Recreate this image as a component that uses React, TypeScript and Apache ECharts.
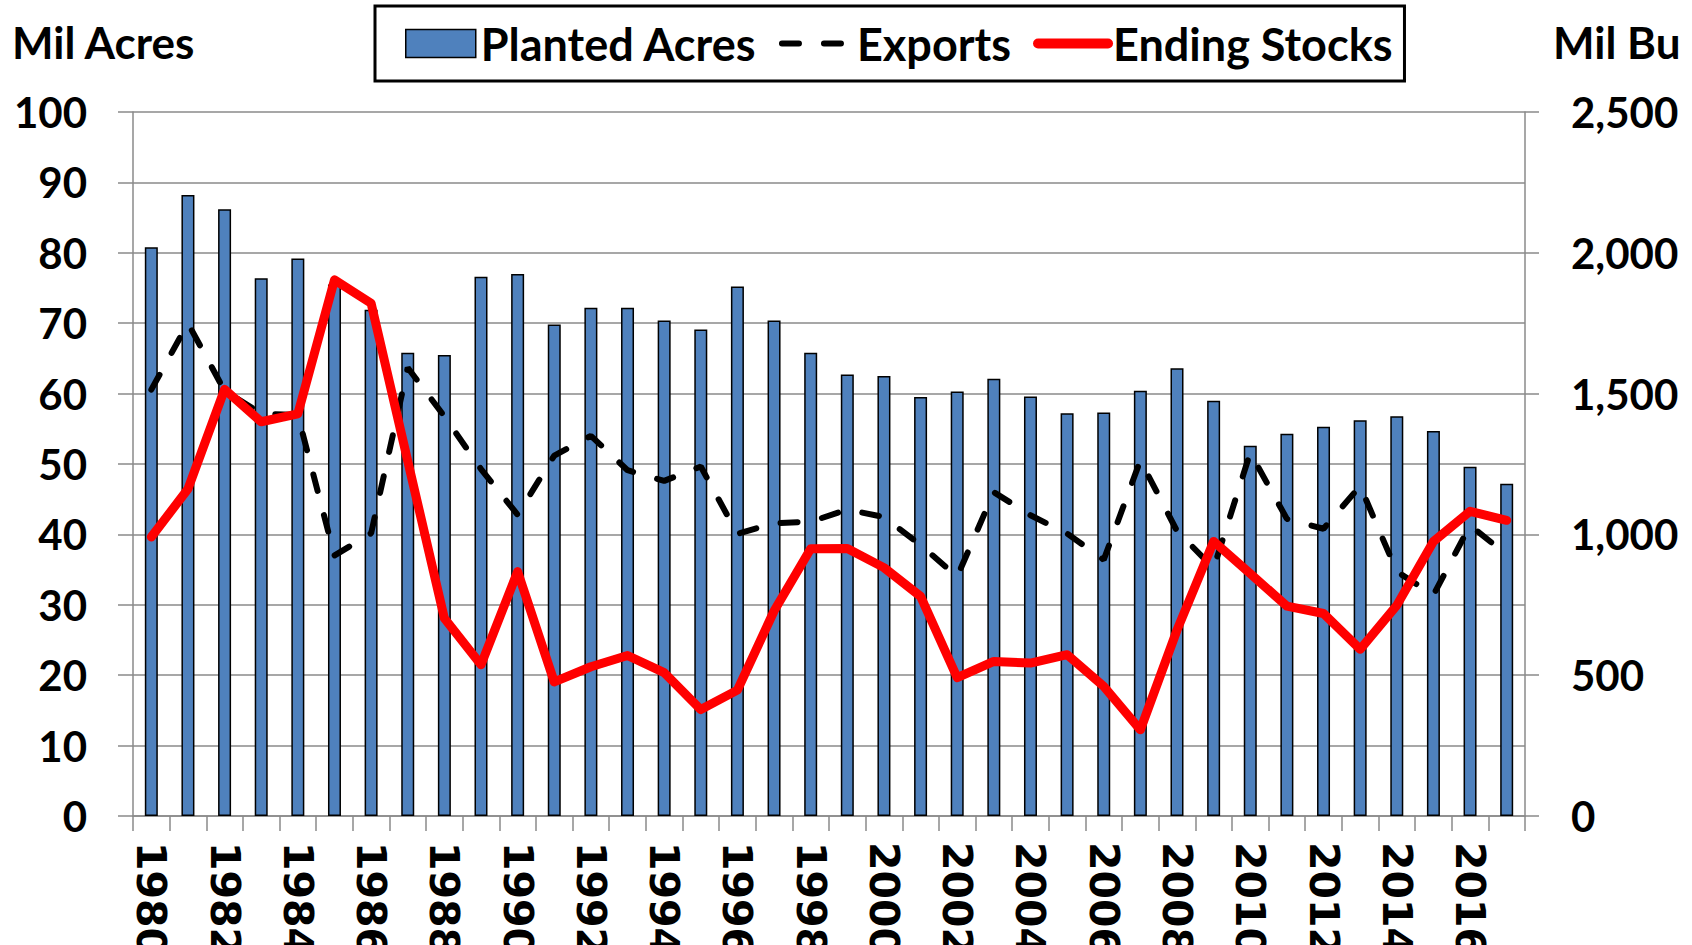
import React, { useEffect, useRef } from "react";
import * as echarts from "echarts";

const years = [
  "1980", "1981", "1982", "1983", "1984", "1985", "1986", "1987", "1988", "1989",
  "1990", "1991", "1992", "1993", "1994", "1995", "1996", "1997", "1998", "1999",
  "2000", "2001", "2002", "2003", "2004", "2005", "2006", "2007", "2008", "2009",
  "2010", "2011", "2012", "2013", "2014", "2015", "2016", "2017",
];

// Mil Acres (left axis)
const plantedAcres = [
  80.8, 88.2, 86.2, 76.4, 79.2, 75.5, 71.9, 65.8, 65.5, 76.6,
  77.0, 69.8, 72.2, 72.2, 70.4, 69.1, 75.2, 70.4, 65.8, 62.7,
  62.5, 59.5, 60.3, 62.1, 59.6, 57.2, 57.3, 60.4, 63.6, 59.0,
  52.6, 54.3, 55.3, 56.2, 56.8, 54.7, 49.6, 47.2,
];

// Mil Bu (right axis)
const exportsBu = [
  1514, 1750, 1510, 1429, 1424, 925, 1004, 1592, 1419, 1232,
  1070, 1280, 1350, 1228, 1190, 1241, 1002, 1040, 1045, 1088,
  1062, 962, 850, 1150, 1068, 1003, 910, 1263, 1012, 880,
  1290, 1055, 1020, 1172, 868, 785, 1032, 928,
];

const endingStocks = [
  991, 1161, 1515, 1400, 1428, 1904, 1821, 1261, 702, 537,
  868, 476, 530, 570, 509, 378, 447, 728, 949, 950,
  882, 780, 491, 549, 543, 573, 460, 306, 660, 975,
  861, 745, 719, 592, 748, 975, 1082, 1050,
];

const leftTitle = "Mil Acres";
const rightTitle = "Mil Bu";

const FONT = "Lato";
const GRAY = "#8a8a8a";

export default function App() {
  const ref = useRef<HTMLDivElement>(null);

  useEffect(() => {
    const chart = echarts.init(ref.current!, null, { renderer: "svg", width: 1692, height: 945 });
    chart.setOption({
      animation: false,
      backgroundColor: "#ffffff",
      textStyle: { fontFamily: FONT },
      grid: {
        left: 133,
        right: 167,
        top: 112,
        bottom: 129,
        containLabel: false,
        outerBoundsMode: "none",
      },
      legend: {
        left: 375,
        top: 6,
        padding: [15, 12, 15, 30],
        borderColor: "#000",
        borderWidth: 3,
        borderRadius: 0,
        itemWidth: 70,
        itemHeight: 28,
        itemGap: 22,
        textStyle: { fontFamily: FONT, fontWeight: "bold", fontSize: 45, color: "#000" },
        data: [
          {
            name: "Planted Acres",
            icon: "rect",
            itemStyle: { color: "#4F81BD", borderColor: "#000", borderWidth: 1.5 },
          },
          {
            name: "Exports",
            itemStyle: { opacity: 0 },
            lineStyle: { width: 6, color: "#000", type: [17, 25], cap: "round" },
          },
          {
            name: "Ending Stocks",
            itemStyle: { opacity: 0 },
            lineStyle: { width: 10, color: "#FF0000", cap: "round" },
          },
        ],
      },
      graphic: [
        {
          type: "text",
          x: 12,
          y: 42,
          style: { text: leftTitle, font: `bold 44px ${FONT}`, fill: "#000", textVerticalAlign: "middle" },
        },
        {
          type: "text",
          x: 1553,
          y: 42,
          style: { text: rightTitle, font: `bold 44px ${FONT}`, fill: "#000", textVerticalAlign: "middle" },
        },
      ],
      xAxis: {
        type: "category",
        data: years,
        boundaryGap: true,
        axisLine: { show: true, lineStyle: { color: GRAY, width: 1.5 } },
        axisTick: { show: true, interval: 0, length: 15, lineStyle: { color: GRAY, width: 1.5 } },
        axisLabel: {
          interval: 1,
          rotate: -90,
          margin: 26,
          fontFamily: "'DejaVu Sans'",
          fontWeight: "bold",
          fontSize: 41,
          color: "#000",
        },
      },
      yAxis: [
        {
          type: "value",
          min: 0,
          max: 100,
          interval: 10,
          position: "left",
          axisLine: { show: true, lineStyle: { color: GRAY, width: 1.5 } },
          axisTick: { show: true, length: 15, lineStyle: { color: GRAY, width: 1.5 } },
          splitLine: { show: true, lineStyle: { color: GRAY, width: 1.5 } },
          axisLabel: { margin: 46, fontFamily: FONT, fontWeight: "bold", fontSize: 42, color: "#000" },
        },
        {
          type: "value",
          min: 0,
          max: 2500,
          interval: 500,
          position: "right",
          axisLine: { show: true, lineStyle: { color: GRAY, width: 1.5 } },
          axisTick: { show: true, length: 14, lineStyle: { color: GRAY, width: 1.5 } },
          splitLine: { show: false },
          axisLabel: {
            margin: 46,
            fontFamily: FONT,
            fontWeight: "bold",
            fontSize: 42,
            color: "#000",
            formatter: (v: number) => v.toLocaleString("en-US"),
          },
        },
      ],
      series: [
        {
          name: "Planted Acres",
          type: "bar",
          data: plantedAcres,
          barWidth: 13,
          itemStyle: { color: "#4F81BD", borderColor: "#000", borderWidth: 1.5 },
          z: 2,
        },
        {
          name: "Exports",
          type: "line",
          yAxisIndex: 1,
          data: exportsBu,
          symbol: "none",
          itemStyle: { color: "#000" },
          lineStyle: { color: "#000", width: 6, type: [17, 25], cap: "round" },
          z: 3,
        },
        {
          name: "Ending Stocks",
          type: "line",
          yAxisIndex: 1,
          data: endingStocks,
          symbol: "none",
          itemStyle: { color: "#FF0000" },
          lineStyle: { color: "#FF0000", width: 9, cap: "round", join: "round" },
          z: 4,
        },
      ],
    });
    return () => chart.dispose();
  }, []);

  return (
    <div
      ref={ref}
      style={{ position: "fixed", left: 0, top: 0, width: 1692, height: 945, background: "#fff" }}
    />
  );
}
